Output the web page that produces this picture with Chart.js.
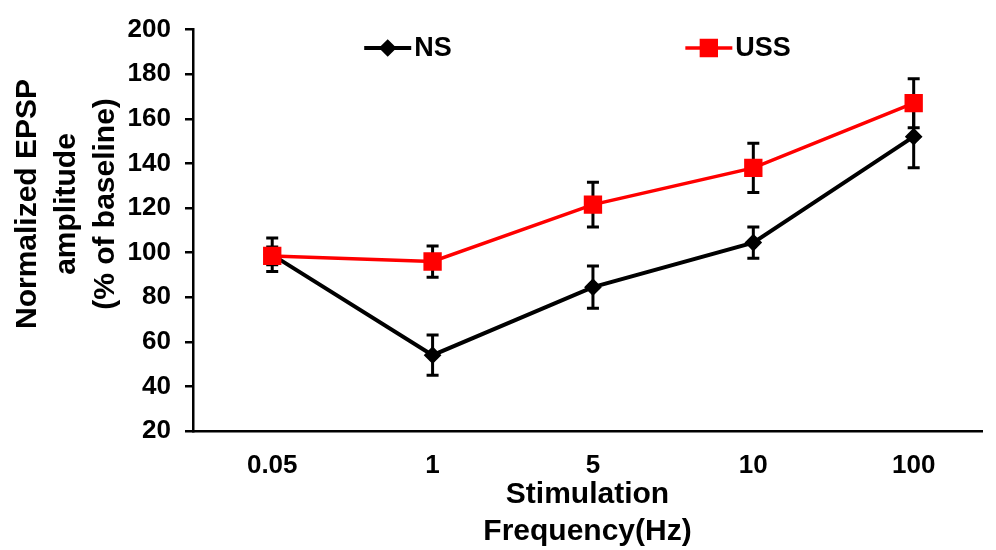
<!DOCTYPE html>
<html>
<head>
<meta charset="utf-8">
<script src="https://cdn.jsdelivr.net/npm/chart.js@4/dist/chart.umd.min.js"></script>
<style>
  html, body { margin: 0; padding: 0; background: #ffffff; }
  #wrap { width: 996px; height: 550px; position: relative; }
</style>
</head>
<body>
<div id="wrap"><canvas id="chart"></canvas></div>
<script>
// 数据
const freqLabels = ['0.05', '1', '5', '10', '100'];
const nsValues = [99, 54, 84.5, 104.5, 152];
const nsErrors = [7.5, 9, 9.5, 7, 14];
const ussValues = [98.5, 96, 121.5, 138, 167];
const ussErrors = [4, 7, 10, 11, 11];
const yTicks = [20, 40, 60, 80, 100, 120, 140, 160, 180, 200];
const yTitleLines = ['Normalized EPSP', 'amplitude', '(% of baseline)'];
const xTitleLines = ['Stimulation', 'Frequency(Hz)'];

const FONT = '"Liberation Sans", Arial, sans-serif';

// 误差线：在每条折线之前画
const errorBarPlugin = {
    id: 'errorBars',
    beforeDatasetDraw(chart, args) {
        const ds = chart.data.datasets[args.index];
        if (!ds.errors) return;
        const meta = args.meta;
        const y = chart.scales.y;
        const ctx = chart.ctx;
        ctx.save();
        ctx.strokeStyle = '#000000';
        ctx.lineWidth = 3;
        meta.data.forEach((pt, i) => {
            const v = ds.data[i].y;
            const e = ds.errors[i];
            const top = y.getPixelForValue(v + e);
            const bot = y.getPixelForValue(v - e);
            ctx.beginPath();
            ctx.moveTo(pt.x, top);
            ctx.lineTo(pt.x, bot);
            ctx.moveTo(pt.x - 6, top);
            ctx.lineTo(pt.x + 6, top);
            ctx.moveTo(pt.x - 6, bot);
            ctx.lineTo(pt.x + 6, bot);
            ctx.stroke();
        });
        ctx.restore();
    }
};

// 图例（放在绘图区内部）和纵轴标题
const legendPlugin = {
    id: 'innerLegend',
    afterDraw(chart) {
        const ctx = chart.ctx;
        const area = chart.chartArea;
        const items = [
            { ds: chart.data.datasets[0], frac: 0.217 },
            { ds: chart.data.datasets[1], frac: 0.624 }
        ];
        const ly = 48;
        ctx.save();
        items.forEach(item => {
            const x0 = area.left + area.width * item.frac;
            ctx.strokeStyle = item.ds.borderColor;
            ctx.lineWidth = item.ds.borderWidth;
            ctx.beginPath();
            ctx.moveTo(x0, ly);
            ctx.lineTo(x0 + 47, ly);
            ctx.stroke();
            ctx.fillStyle = item.ds.pointBackgroundColor;
            ctx.strokeStyle = item.ds.pointBorderColor;
            Chart.helpers.drawPoint(ctx, {
                pointStyle: item.ds.pointStyle,
                radius: item.ds.pointRadius,
                borderWidth: 1
            }, x0 + 23.5, ly);
            ctx.fillStyle = '#000000';
            ctx.font = 'bold 27px ' + FONT;
            ctx.textAlign = 'left';
            ctx.textBaseline = 'middle';
            ctx.fillText(item.ds.label, x0 + 50, ly + 1);
        });

        // 纵轴标题（三行）
        ctx.translate(0, 204);
        ctx.rotate(-Math.PI / 2);
        ctx.font = 'bold 30px ' + FONT;
        ctx.textAlign = 'center';
        ctx.textBaseline = 'middle';
        yTitleLines.forEach((line, i) => {
            ctx.fillText(line, 0, 28 + i * 39);
        });
        ctx.restore();
    }
};

const toPoints = vals => vals.map((v, i) => ({ x: i, y: v }));

new Chart(document.getElementById('chart'), {
    type: 'line',
    data: {
        datasets: [{
            label: 'NS',
            data: toPoints(nsValues),
            errors: nsErrors,
            borderColor: '#000000',
            borderWidth: 4,
            pointStyle: 'rectRot',
            pointRadius: 6,
            pointBackgroundColor: '#000000',
            pointBorderColor: '#000000',
            tension: 0,
            order: 2
        }, {
            label: 'USS',
            data: toPoints(ussValues),
            errors: ussErrors,
            borderColor: '#ff0000',
            borderWidth: 3.5,
            pointStyle: 'rect',
            pointRadius: 10.5,
            pointBackgroundColor: '#ff0000',
            pointBorderColor: '#ff0000',
            tension: 0,
            order: 1
        }]
    },
    options: {
        responsive: true,
        maintainAspectRatio: false,
        animation: false,
        layout: { padding: { top: 24, right: 6, left: 0, bottom: 0 } },
        plugins: {
            legend: { display: false },
            tooltip: { enabled: false }
        },
        scales: {
            x: {
                type: 'linear',
                min: -0.494,
                max: 4.426,
                afterFit(scale) { scale.height = 119; },
                afterBuildTicks(scale) {
                    scale.ticks = freqLabels.map((l, i) => ({ value: i }));
                },
                ticks: {
                    color: '#000000',
                    padding: 11,
                    font: { family: FONT, size: 26, weight: 'bold' },
                    callback: value => freqLabels[value]
                },
                grid: { display: false },
                border: { display: true, color: '#000000', width: 2.5 },
                title: {
                    display: true,
                    text: xTitleLines,
                    color: '#000000',
                    padding: { top: 0, bottom: 0 },
                    font: { family: FONT, size: 30, weight: 'bold', lineHeight: 1.23 }
                }
            },
            y: {
                min: 20,
                max: 200,
                afterFit(scale) { scale.width = 193; },
                afterBuildTicks(scale) {
                    scale.ticks = yTicks.map(v => ({ value: v }));
                },
                ticks: {
                    color: '#000000',
                    padding: 14,
                    font: { family: FONT, size: 26, weight: 'bold' }
                },
                grid: {
                    drawOnChartArea: false,
                    drawTicks: true,
                    tickLength: 8,
                    color: '#000000',
                    lineWidth: 2.5
                },
                border: { display: true, color: '#000000', width: 2.5 }
            }
        }
    },
    plugins: [errorBarPlugin, legendPlugin]
});
</script>
</body>
</html>
